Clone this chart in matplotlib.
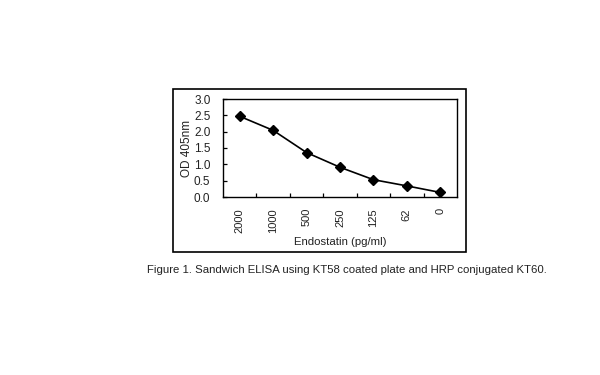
import matplotlib
matplotlib.use("Agg")
import matplotlib.pyplot as plt
from matplotlib.patches import Rectangle

plt.rcParams['font.family'] = ['Liberation Sans', 'DejaVu Sans']

categories = ["2000", "1000", "500", "250", "125", "62", "0"]
od_values = [2.47, 2.04, 1.36, 0.91, 0.53, 0.34, 0.14]
y_ticks = [0.0, 0.5, 1.0, 1.5, 2.0, 2.5, 3.0]

fig = plt.figure(figsize=(6, 3.75), dpi=100)

# outer frame
fig.patches.append(Rectangle((173/600, 1-252/375), (466-173)/600, (252-89)/375,
                             transform=fig.transFigure, fill=False,
                             edgecolor='black', linewidth=1.2))

ax = fig.add_axes([223/600, 1-197/375, (457-223)/600, (197-99)/375])
x = list(range(len(categories)))
ax.plot(x, od_values, color='black', linewidth=1.2, marker='D', markersize=5,
        markerfacecolor='black', markeredgecolor='black')
ax.set_xlim(-0.5, len(categories) - 0.5)
ax.set_ylim(0, 3.0)
ax.set_yticks(y_ticks)
ax.set_yticklabels([f"{v:.1f}" for v in y_ticks], fontsize=8.5, color='#222222')
ax.tick_params(axis='y', direction='in', length=3, width=0.9, pad=9)
ax.set_xticks([i + 0.5 for i in range(len(categories) - 1)])
ax.set_xticklabels([])
ax.set_xticks(x, minor=True)
ax.set_xticklabels(categories, minor=True, rotation=90, fontsize=8, color='#222222')
ax.tick_params(axis='x', which='major', direction='in', length=3, width=0.9)
ax.tick_params(axis='x', which='minor', length=0, pad=8)
for s in ax.spines.values():
    s.set_linewidth(1.0)
ax.set_ylabel("OD 405nm", fontsize=8.5, labelpad=1, color='#222222')
ax.set_xlabel("Endostatin (pg/ml)", fontsize=8.2, labelpad=3, color='#222222')

fig.text(347/600, 1-270/375, "Figure 1. Sandwich ELISA using KT58 coated plate and HRP conjugated KT60.",
         ha='center', va='center', fontsize=8.2, color='#222222')

fig.savefig("out.png", dpi=100)
